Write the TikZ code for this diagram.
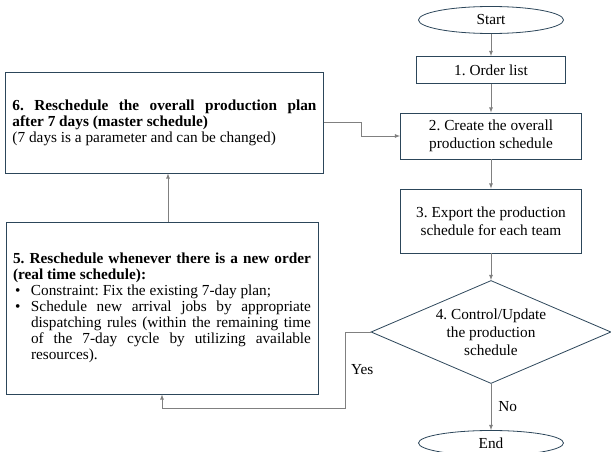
\documentclass[tikz,border=0pt]{standalone}
\usepackage{fontspec}
\setmainfont{Liberation Serif}
\usepackage{tikz}
\usetikzlibrary{positioning}
\usetikzlibrary{arrows}
\usetikzlibrary{shapes.geometric}

\definecolor{boxline}{RGB}{44,70,90}
\definecolor{linkgray}{RGB}{128,128,128}
\setlength{\parindent}{0pt}
\frenchspacing
\newcommand{\bulletitem}[1]{\par\makebox[18pt][l]{\hspace{2pt}\textbullet}\parbox[t]{280pt}{#1}}

\begin{document}
\begin{tikzpicture}[x=1pt,y=-1pt,>=latex,
    font=\fontsize{15.3}{18}\selectfont,
    flowbox/.style={draw=boxline, line width=0.8pt, rectangle, align=center, inner sep=0pt},
    terminal/.style={draw=boxline, line width=0.8pt, ellipse, minimum width=145pt, minimum height=27pt, inner sep=0pt},
    decision/.style={draw=boxline, line width=0.8pt, diamond, aspect=2.35, minimum width=240pt, minimum height=103pt, inner sep=0pt, align=center},
    notebox/.style={draw=boxline, line width=0.8pt, rectangle, align=justify, inner xsep=7pt, font=\fontsize{15.3}{16}\selectfont},
    link/.style={->, draw=linkgray, line width=0.8pt}]
                \useasboundingbox (0,0) rectangle (611,452);

                % Define the main flow
                \node[terminal] (start) at (491,20) {Start};
                \node[flowbox, minimum width=149pt, minimum height=27pt] (order) at (491,70) {1. Order list};
                \node[flowbox, minimum width=181pt, minimum height=46pt] (create) at (491,136) {2. Create the overall\\production schedule};
                \node[flowbox, minimum width=181pt, minimum height=64pt] (export) at (491,221) {3. Export the production\\schedule for each team};
                \node[decision] (control) at (491,332) {4. Control/Update\\the production\\schedule};
                \node[terminal, minimum height=25pt] (end) at (491,443) {End};

                % Define the rescheduling boxes
                \node[notebox, text width=304pt, minimum height=101pt] (master) at (164.5,122.5) {\textbf{6. Reschedule the overall production plan\linebreak after 7 days (master schedule)}\par (7 days is a parameter and can be changed)};
                \node[notebox, text width=298pt, minimum height=172pt] (realtime) at (162,308) {\textbf{5. Reschedule whenever there is a new order\linebreak (real time schedule):}\bulletitem{Constraint: Fix the existing 7-day plan;}\bulletitem{Schedule new arrival jobs by appropriate\linebreak dispatching rules (within the remaining time\linebreak of the 7-day cycle by utilizing available\linebreak resources).}};

                % Draw the lines
                \foreach \from/\to in {start/order, order/create, create/export, export/control}
                    \draw[link] (\from.south) -- (\to.north);
                \draw[link] (control.south) -- node[right, inner sep=7pt] {No} (end.north);
                \draw[link] (control.west) -- ++(-25,0) -- node[right, inner sep=5pt] {Yes} ++(0,76) -| (realtime.south);
                \draw[link] ([xshift=6pt]realtime.north) -- ([xshift=6pt]realtime.north |- master.south);
                \draw[link] (master.east) -- ++(37,0) |- (create.west);
            \end{tikzpicture}
\end{document}
